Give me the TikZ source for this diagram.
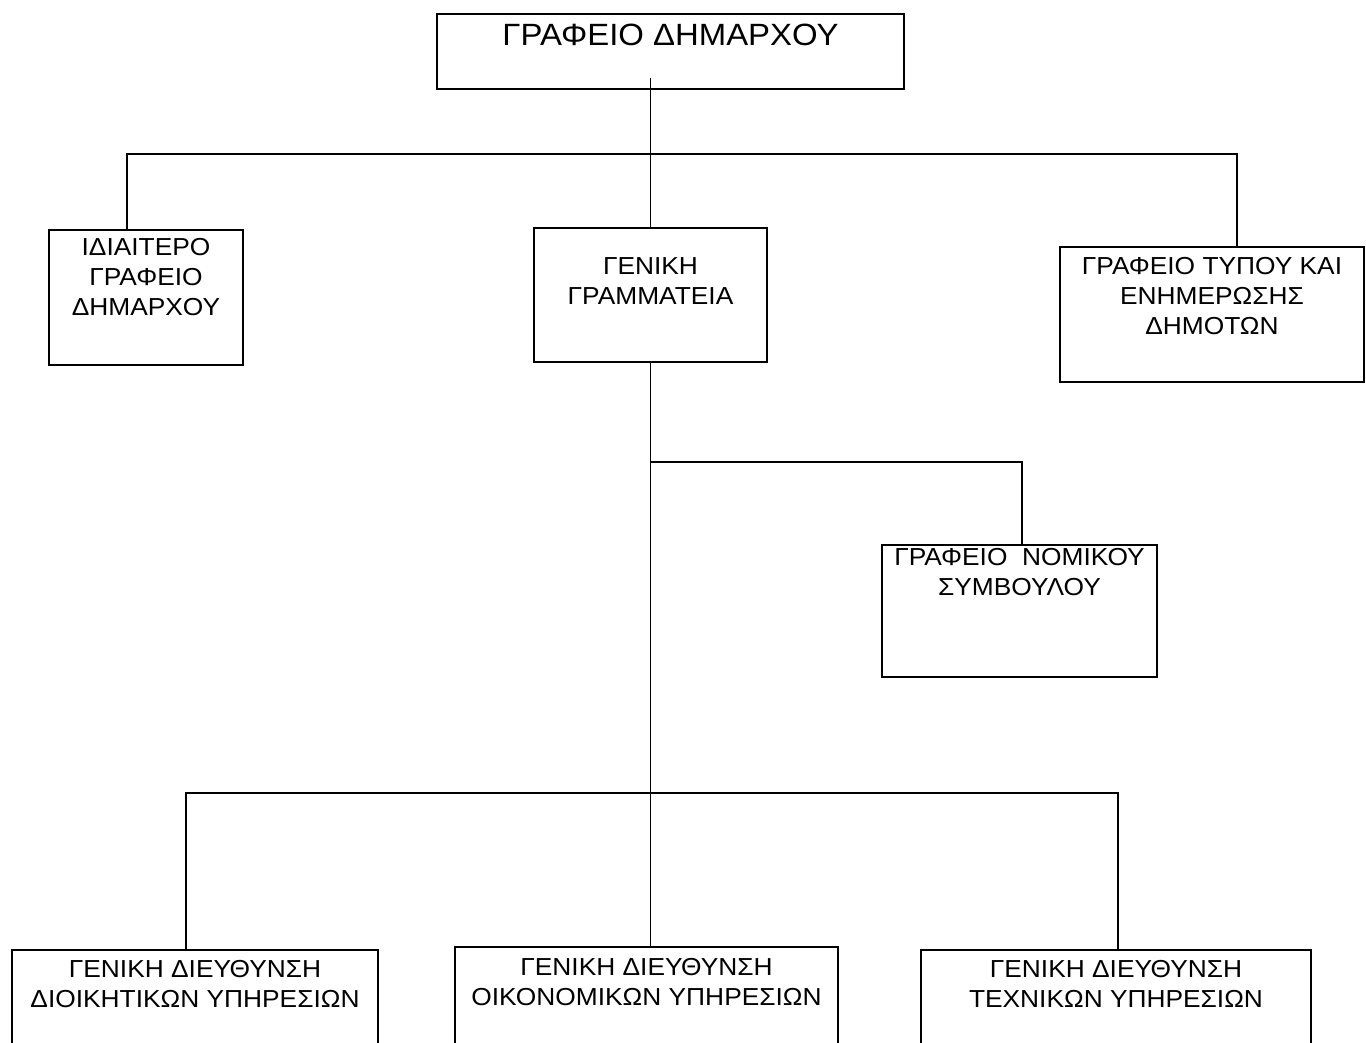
\documentclass[tikz,border=0pt]{standalone}
\usepackage{fontspec}
\setmainfont[FakeStretch=1.07]{Liberation Sans}
\newlength\px
\setlength\px{0.02cm}
% width, height, gap above the text, text
\newcommand\boxtext[4]{\parbox[c][#2\px][t]{#1\px}{\setlength\baselineskip{30\px}\vspace*{#3\px}\centering #4\par}}

\begin{document}
\begin{tikzpicture}[x=0.02cm,y=-0.02cm,
  unit/.style={draw,line width=0.9pt,inner sep=0pt,outer sep=0pt,anchor=north west,font=\fontsize{14}{17}\selectfont},
  link/.style={line width=0.9pt}]
 \useasboundingbox (0,0) rectangle (1366,1043);
 % boxes
 \node[unit,font=\fontsize{17.5}{21}\selectfont] (mayor) at (437,14) {\boxtext{467}{75}{10}{ΓΡΑΦΕΙΟ ΔΗΜΑΡΧΟΥ}};
 \node[unit] (private) at (49,230) {\boxtext{194}{135}{8}{ΙΔΙΑΙΤΕΡΟ\\ΓΡΑΦΕΙΟ\\ΔΗΜΑΡΧΟΥ}};
 \node[unit] (secgen) at (534,228) {\boxtext{233}{134}{30}{ΓΕΝΙΚΗ\\ΓΡΑΜΜΑΤΕΙΑ}};
 \node[unit] (press) at (1060,247) {\boxtext{304}{135}{10}{ΓΡΑΦΕΙΟ ΤΥΠΟΥ ΚΑΙ\\ΕΝΗΜΕΡΩΣΗΣ\\ΔΗΜΟΤΩΝ}};
 \node[unit] (legal) at (882,545) {\boxtext{275}{132}{3}{ΓΡΑΦΕΙΟ~ ΝΟΜΙΚΟΥ\\ΣΥΜΒΟΥΛΟΥ}};
 \node[unit] (admin) at (12,950) {\boxtext{366}{120}{10}{ΓΕΝΙΚΗ ΔΙΕΥΘΥΝΣΗ\\ΔΙΟΙΚΗΤΙΚΩΝ ΥΠΗΡΕΣΙΩΝ}};
 \node[unit] (econ) at (455,947) {\boxtext{383}{123}{11}{ΓΕΝΙΚΗ ΔΙΕΥΘΥΝΣΗ\\ΟΙΚΟΝΟΜΙΚΩΝ ΥΠΗΡΕΣΙΩΝ}};
 \node[unit] (tech) at (921,950) {\boxtext{390}{120}{10}{ΓΕΝΙΚΗ ΔΙΕΥΘΥΝΣΗ\\ΤΕΧΝΙΚΩΝ ΥΠΗΡΕΣΙΩΝ}};
 % taps on the buses
 \coordinate (privtap) at (127,154);
 \coordinate (presstap) at (1237,154);
 \coordinate (legaltap) at (1022,462);
 \coordinate (admintap) at (186,793);
 \coordinate (techtap) at (1118,793);
 % lines
 \draw[link] (secgen.north) -- (secgen.north |- mayor.south) -- ++(0,-11);
 \draw[link] (privtap |- private.north) -- (privtap) -- (presstap) -- (presstap |- press.north);
 \draw[link] (secgen.south) -- (secgen.south |- econ.north);
 \draw[link] (secgen.south |- legaltap) -- (legaltap) -- (legaltap |- legal.north);
 \draw[link] (admintap |- admin.north) -- (admintap) -- (techtap) -- (techtap |- tech.north);
\end{tikzpicture}
\end{document}
